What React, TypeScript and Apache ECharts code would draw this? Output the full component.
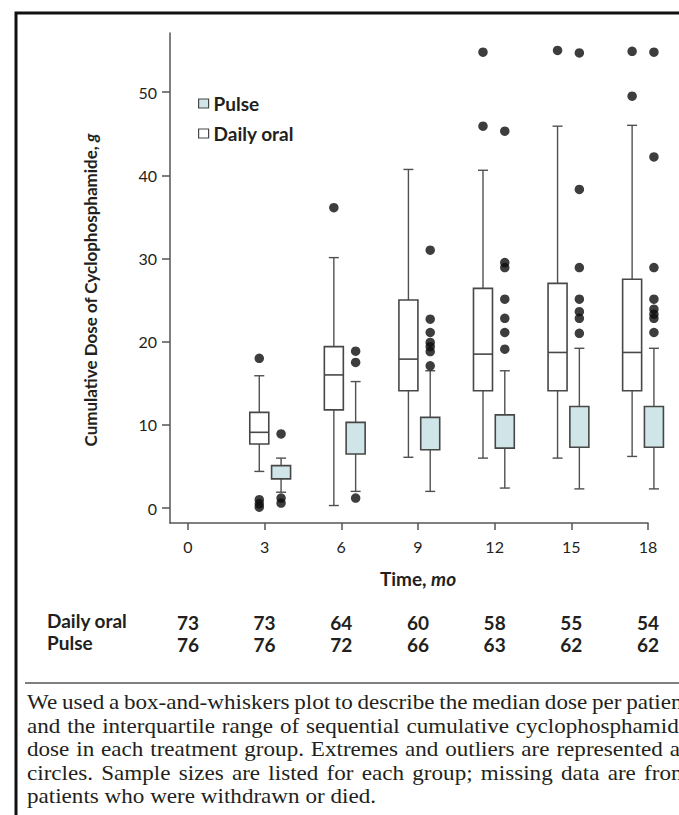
import React, { useEffect, useRef } from 'react';
import * as echarts from 'echarts';

// ---------- data ----------
const months = [0, 3, 6, 9, 12, 15, 18];
const yTicks = [0, 10, 20, 30, 40, 50];
const boxTimes = [3, 6, 9, 12, 15, 18];

// [low whisker, Q1, median, Q3, high whisker]
const dailyOralBoxes = [
  [4.4, 7.7, 9.1, 11.5, 15.9],
  [0.3, 11.8, 16.0, 19.4, 30.1],
  [6.1, 14.1, 17.9, 25.0, 40.7],
  [6.0, 14.1, 18.5, 26.4, 40.6],
  [6.0, 14.1, 18.7, 27.0, 45.9],
  [6.2, 14.1, 18.7, 27.5, 46.0],
];
// [low whisker, Q1, Q3, high whisker]  (no median line shown)
const pulseBoxes = [
  [1.9, 3.5, 5.1, 6.0],
  [2.0, 6.5, 10.3, 15.2],
  [2.0, 7.0, 10.9, 16.5],
  [2.4, 7.2, 11.2, 16.5],
  [2.3, 7.3, 12.2, 19.2],
  [2.3, 7.3, 12.2, 19.2],
];
const dailyOralOutliers = [
  [3, 18.0], [3, 1.0], [3, 0.5], [3, 0.1],
  [6, 36.1],
  [12, 54.8], [12, 45.9],
  [15, 55.0],
  [18, 54.9], [18, 49.5],
];
const pulseOutliers = [
  [3, 8.9], [3, 1.2], [3, 0.6],
  [6, 18.85], [6, 17.5], [6, 1.2],
  [9, 31.0], [9, 22.7], [9, 21.1], [9, 19.9], [9, 19.4], [9, 18.8], [9, 17.1],
  [12, 45.3], [12, 29.5], [12, 28.9], [12, 25.1], [12, 22.8], [12, 21.1], [12, 19.1],
  [15, 54.7], [15, 38.3], [15, 28.9], [15, 25.1], [15, 23.6], [15, 22.8], [15, 21.0],
  [18, 54.8], [18, 42.2], [18, 28.9], [18, 25.1], [18, 23.9], [18, 23.3], [18, 22.8], [18, 21.1],
];
const dailyOralN = [73, 73, 64, 60, 58, 55, 54];
const pulseN = [76, 76, 72, 66, 63, 62, 62];

const captionLines = [
  'We used a box-and-whiskers plot to describe the median dose per patient',
  'and the interquartile range of sequential cumulative cyclophosphamide',
  'dose in each treatment group. Extremes and outliers are represented as',
  'circles. Sample sizes are listed for each group; missing data are from',
  'patients who were withdrawn or died.',
];

// ---------- styles ----------
const FONT = 'Lato';
const SERIF = 'Liberation Serif';
const TXT = '#231f20';
const AX = '#555555';
const BOX_STROKE = '#474747';
const WHISKER = '#505050';
const PULSE_FILL = '#cfe5e7';
const DOT = '#0d0d0d';
const OFFSET = 10.9;

function makeBoxRender(offset: number, fill: string, hasMedian: boolean) {
  return (params: any, api: any) => {
    const t = api.value(0);
    const py = (d: number) => api.coord([t, api.value(d)])[1];
    const cx = api.coord([t, 0])[0] + offset;
    const low = py(1);
    const q1 = py(2);
    const q3 = hasMedian ? py(4) : py(3);
    const high = hasMedian ? py(5) : py(4);
    const half = 9.5;
    const cap = 5;
    const ls = { stroke: WHISKER, lineWidth: 1.4 };
    const children: any[] = [
      { type: 'line', shape: { x1: cx, y1: high, x2: cx, y2: low }, style: ls },
      { type: 'line', shape: { x1: cx - cap, y1: high, x2: cx + cap, y2: high }, style: ls },
      { type: 'line', shape: { x1: cx - cap, y1: low, x2: cx + cap, y2: low }, style: ls },
      {
        type: 'rect',
        shape: { x: cx - half, y: q3, width: half * 2, height: q1 - q3 },
        style: { fill, stroke: BOX_STROKE, lineWidth: 1.6 },
      },
    ];
    if (hasMedian) {
      const med = py(3);
      children.push({
        type: 'line',
        shape: { x1: cx - half, y1: med, x2: cx + half, y2: med },
        style: { stroke: BOX_STROKE, lineWidth: 1.6 },
      });
    }
    return { type: 'group', children };
  };
}

function buildCaption(): any[] {
  const fs = 22;
  const sx = 1.05;
  const left = 19;
  const right = 681;
  const centers = [694, 717.5, 741, 764.5, 788];
  const canvas = document.createElement('canvas');
  const ctx = canvas.getContext('2d')!;
  ctx.font = `${fs}px "${SERIF}"`;
  const spaceW = ctx.measureText(' ').width * sx;
  const out: any[] = [];
  captionLines.forEach((line, li) => {
    const words = line.split(' ');
    const widths = words.map((w) => ctx.measureText(w).width * sx);
    const total = widths.reduce((a, b) => a + b, 0);
    const last = li === captionLines.length - 1;
    const gap = last ? spaceW : Math.max(spaceW * 0.8, (right - left - total) / (words.length - 1));
    let x = left;
    words.forEach((w, wi) => {
      out.push({
        type: 'text',
        x,
        y: centers[li],
        scaleX: sx,
        style: {
          text: w,
          x: 0,
          y: 0,
          fontFamily: SERIF,
          fontSize: fs,
          fill: TXT,
          verticalAlign: 'middle',
          align: 'left',
        },
      });
      x += widths[wi] + gap;
    });
  });
  return out;
}

export default function App() {
  const ref = useRef<HTMLDivElement>(null);

  useEffect(() => {
    const el = ref.current;
    if (!el) return;
    const chart = echarts.init(el, null, { renderer: 'svg' });

    const dailyData = boxTimes.map((t, i) => [t, ...dailyOralBoxes[i]]);
    const pulseData = boxTimes.map((t, i) => [t, ...pulseBoxes[i]]);

    const countAxis = (counts: number[], margin: number) => ({
      type: 'value',
      min: -0.7,
      max: 18,
      position: 'bottom',
      axisLine: { show: false },
      axisTick: { show: false },
      splitLine: { show: false },
      axisLabel: {
        customValues: months,
        margin,
        formatter: (v: number) => String(counts[Math.round(v / 3)]),
        fontFamily: FONT,
        fontWeight: 'bold',
        fontSize: 19,
        color: TXT,
      },
    });

    const option: any = {
      animation: false,
      backgroundColor: '#ffffff',
      grid: { left: 162, top: 25, width: 478, height: 490 },
      legend: {
        orient: 'vertical',
        left: 185,
        top: 81,
        itemWidth: 10,
        itemHeight: 9,
        itemGap: 11,
        selectedMode: false,
        textStyle: { fontFamily: FONT, fontWeight: 'bold', fontSize: 19, color: TXT },
        data: [
          { name: 'Pulse', icon: 'rect', itemStyle: { color: PULSE_FILL, borderColor: BOX_STROKE, borderWidth: 1.2 } },
          { name: 'Daily oral', icon: 'rect', itemStyle: { color: '#ffffff', borderColor: BOX_STROKE, borderWidth: 1.2 } },
        ],
      },
      xAxis: [
        {
          type: 'value',
          min: -0.7,
          max: 18,
          position: 'bottom',
          axisLine: { show: true, onZero: false, lineStyle: { color: AX, width: 1.5 } },
          axisTick: { show: true, customValues: months, length: 7, lineStyle: { color: AX, width: 1.5 } },
          axisLabel: { customValues: months, margin: 15, fontFamily: FONT, fontSize: 16, color: TXT },
          splitLine: { show: false },
          name: 'Time, {i|mo}',
          nameLocation: 'middle',
          nameGap: 46,
          nameTextStyle: {
            fontFamily: FONT,
            fontWeight: 'bold',
            fontSize: 19,
            color: TXT,
            padding: [0, 0, 0, 18],
            rich: { i: { fontFamily: FONT, fontWeight: 'bold', fontStyle: 'italic', fontSize: 19, color: TXT } },
          },
        },
        { type: 'value', min: -1.03, max: 18.2, show: false },
        countAxis(dailyOralN, 90),
        countAxis(pulseN, 112),
      ],
      yAxis: {
        type: 'value',
        min: -1.8,
        max: 57.1,
        axisLine: { show: true, onZero: false, lineStyle: { color: AX, width: 1.5 } },
        axisTick: { show: true, customValues: yTicks, length: 8, lineStyle: { color: AX, width: 1.5 } },
        axisLabel: { customValues: yTicks, margin: 13, fontFamily: FONT, fontSize: 16, color: TXT },
        splitLine: { show: false },
        name: 'Cumulative Dose of Cyclophosphamide, {i|g}',
        nameLocation: 'middle',
        nameGap: 71,
        nameTextStyle: {
          fontFamily: FONT,
          fontWeight: 'bold',
          fontSize: 17,
          color: TXT,
          padding: [0, 24, 0, 0],
          rich: { i: { fontFamily: FONT, fontWeight: 'bold', fontStyle: 'italic', fontSize: 17, color: TXT } },
        },
      },
      series: [
        {
          type: 'custom',
          name: 'Daily oral',
          xAxisIndex: 1,
          yAxisIndex: 0,
          data: dailyData,
          renderItem: makeBoxRender(-OFFSET, '#ffffff', true),
          z: 3,
        },
        {
          type: 'custom',
          name: 'Pulse',
          xAxisIndex: 1,
          yAxisIndex: 0,
          data: pulseData,
          renderItem: makeBoxRender(OFFSET, PULSE_FILL, false),
          z: 3,
        },
        {
          type: 'scatter',
          name: 'Daily oral outliers',
          xAxisIndex: 1,
          yAxisIndex: 0,
          data: dailyOralOutliers,
          symbol: 'circle',
          symbolSize: 9.5,
          symbolOffset: [-OFFSET, 0],
          itemStyle: { color: DOT },
          z: 4,
        },
        {
          type: 'scatter',
          name: 'Pulse outliers',
          xAxisIndex: 1,
          yAxisIndex: 0,
          data: pulseOutliers,
          symbol: 'circle',
          symbolSize: 9.5,
          symbolOffset: [OFFSET, 0],
          itemStyle: { color: DOT },
          z: 4,
        },
      ],
      graphic: [
        {
          type: 'rect',
          shape: { x: 8, y: 5, width: 900, height: 1000 },
          style: { fill: 'none', stroke: '#111111', lineWidth: 3 },
          silent: true,
        },
        {
          type: 'line',
          shape: { x1: 17, y1: 675, x2: 720, y2: 675 },
          style: { stroke: '#555555', lineWidth: 1.5 },
          silent: true,
        },
        {
          type: 'text',
          left: 39,
          top: 603,
          style: { text: 'Daily oral', fontFamily: FONT, fontWeight: 'bold', fontSize: 19, fill: TXT },
        },
        {
          type: 'text',
          left: 39,
          top: 625,
          style: { text: 'Pulse', fontFamily: FONT, fontWeight: 'bold', fontSize: 19, fill: TXT },
        },
        ...buildCaption(),
      ],
    };

    chart.setOption(option);
    return () => chart.dispose();
  }, []);

  return (
    <div
      style={{
        position: 'fixed',
        left: 0,
        top: 0,
        width: '100vw',
        height: '100vh',
        overflow: 'hidden',
        background: '#ffffff',
      }}
    >
      <div ref={ref} style={{ position: 'absolute', left: 8, top: 8, width: 720, height: 807 }} />
    </div>
  );
}
